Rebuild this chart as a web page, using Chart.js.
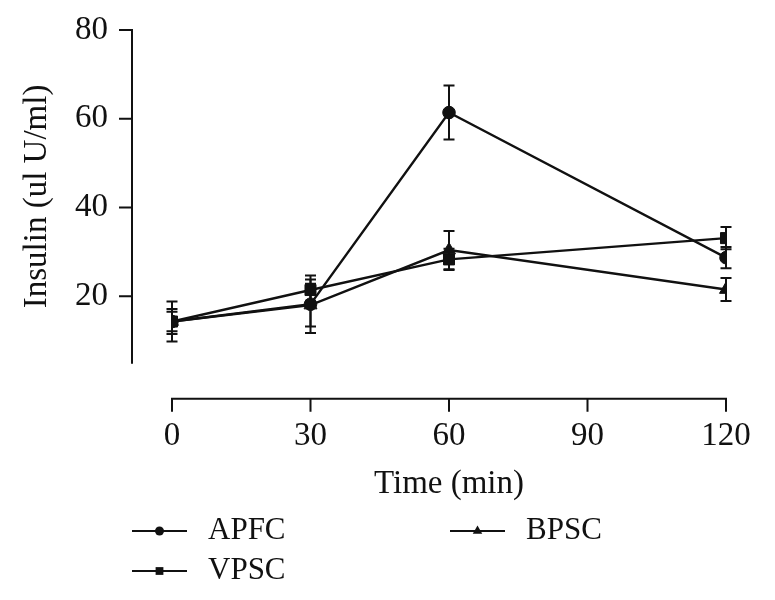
<!DOCTYPE html>
<html><head><meta charset="utf-8">
<script src="https://cdn.jsdelivr.net/npm/chart.js@4.4.1/dist/chart.umd.min.js"></script>
<style>html,body{margin:0;padding:0;background:#fff;}#wrap{width:775px;height:600px;}</style>
</head><body><div id="wrap"><canvas id="c" width="775" height="600"></canvas></div>
<script>
// ---- data ----
const times = [0, 30, 60, 120];
const seriesNames = ['APFC', 'VPSC', 'BPSC'];
const apfcMean = [14.3, 18.2, 61.4, 28.7];
const apfcErr  = [4.5, 6.5, 6.1, 2.4];
const vpscMean = [14.3, 21.4, 28.3, 33.1];
const vpscErr  = [2.2, 2.4, 2.4, 2.5];
const bpscMean = [14.3, 18.0, 30.4, 21.5];
const bpscErr  = [2.8, 4.8, 4.3, 2.6];
const xTicks = [0, 30, 60, 90, 120];
const yTicks = [20, 40, 60, 80];
const xTitle = 'Time (min)';
const yTitle = 'Insulin (ul U/ml)';

// ---- styles ----
const INK = '#111';
const FONT = '"Liberation Serif", "Times New Roman", serif';
const markerStyles = ['circle', 'rect', 'triangle'];
const markerRadius = [6.3, 7.8, 7.5];
const legendMarkerRadius = [4.5, 5.5, 5.5];
const legendSlots = [{x: 132, y: 531}, {x: 132, y: 571}, {x: 450, y: 531}];

const means = [apfcMean, vpscMean, bpscMean];
const errs = [apfcErr, vpscErr, bpscErr];

const datasets = seriesNames.map((name, k) => ({
  label: name,
  data: times.map((t, i) => ({x: t, y: means[k][i]})),
  errors: errs[k],
  borderColor: INK,
  backgroundColor: INK,
  borderWidth: 2.4,
  pointStyle: markerStyles[k],
  pointRadius: markerRadius[k],
  pointBorderWidth: 1,
  pointBackgroundColor: INK,
  pointBorderColor: INK,
  tension: 0,
  fill: false
}));

const errorBars = {
  id: 'errorBars',
  beforeDatasetsDraw(chart) {
    const {ctx, scales: {x, y}} = chart;
    ctx.save();
    ctx.strokeStyle = INK;
    ctx.lineWidth = 2;
    chart.data.datasets.forEach(ds => {
      ds.data.forEach((p, i) => {
        const e = ds.errors[i];
        const px = x.getPixelForValue(p.x);
        const top = y.getPixelForValue(p.y + e);
        const bot = y.getPixelForValue(p.y - e);
        ctx.beginPath();
        ctx.moveTo(px, top); ctx.lineTo(px, bot);
        ctx.moveTo(px - 5.5, top); ctx.lineTo(px + 5.5, top);
        ctx.moveTo(px - 5.5, bot); ctx.lineTo(px + 5.5, bot);
        ctx.stroke();
      });
    });
    ctx.restore();
  }
};

const offsetAxes = {
  id: 'offsetAxes',
  afterDraw(chart) {
    const {ctx, chartArea, scales: {x, y}} = chart;
    const ax = chartArea.left - 40;
    const ay = chartArea.bottom + 36;
    ctx.save();
    ctx.strokeStyle = INK;
    ctx.lineWidth = 2;
    ctx.lineCap = 'square';
    ctx.beginPath();
    ctx.moveTo(ax, y.getPixelForValue(y.max));
    ctx.lineTo(ax, y.getPixelForValue(y.min));
    yTicks.forEach(v => { const py = y.getPixelForValue(v); ctx.moveTo(ax - 12, py); ctx.lineTo(ax, py); });
    ctx.moveTo(x.getPixelForValue(x.min), ay);
    ctx.lineTo(x.getPixelForValue(x.max), ay);
    xTicks.forEach(v => { const px = x.getPixelForValue(v); ctx.moveTo(px, ay); ctx.lineTo(px, ay + 12); });
    ctx.stroke();
    ctx.restore();
  }
};

function drawMarker(ctx, style, r, cx, cy) {
  ctx.beginPath();
  if (style === 'circle') {
    ctx.arc(cx, cy, r, 0, Math.PI * 2);
  } else if (style === 'rect') {
    const s = r * Math.SQRT1_2;
    ctx.rect(cx - s, cy - s, 2 * s, 2 * s);
  } else {
    const half = r * Math.sqrt(3) / 2;
    ctx.moveTo(cx, cy - r);
    ctx.lineTo(cx + half, cy + r / 2);
    ctx.lineTo(cx - half, cy + r / 2);
    ctx.closePath();
  }
  ctx.fill();
}

const seriesLegend = {
  id: 'seriesLegend',
  afterDraw(chart) {
    const {ctx} = chart;
    ctx.save();
    ctx.fillStyle = INK;
    ctx.strokeStyle = INK;
    ctx.lineWidth = 2;
    ctx.font = '31px ' + FONT;
    ctx.textBaseline = 'middle';
    ctx.textAlign = 'left';
    chart.data.datasets.forEach((ds, k) => {
      const s = legendSlots[k];
      ctx.beginPath();
      ctx.moveTo(s.x, s.y); ctx.lineTo(s.x + 55, s.y);
      ctx.stroke();
      drawMarker(ctx, ds.pointStyle, legendMarkerRadius[k], s.x + 27.5, s.y);
      ctx.fillText(ds.label, s.x + 76, s.y);
    });
    ctx.restore();
  }
};

Chart.defaults.font.family = FONT;
Chart.defaults.color = INK;

const hiddenGrid = (len) => ({display: true, drawOnChartArea: false, drawTicks: true, tickLength: len, color: 'rgba(0,0,0,0)'});

new Chart(document.getElementById('c'), {
  type: 'line',
  data: {datasets},
  options: {
    responsive: false,
    animation: false,
    devicePixelRatio: 1,
    layout: {padding: {top: 30, right: 49, bottom: 92, left: 0}},
    plugins: {legend: {display: false}, tooltip: {enabled: false}},
    scales: {
      x: {
        type: 'linear', min: 0, max: 120,
        afterBuildTicks: s => { s.ticks = xTicks.map(v => ({value: v})); },
        grid: hiddenGrid(50), border: {display: false},
        ticks: {font: {size: 33}, padding: 4, color: INK, maxRotation: 0},
        title: {display: true, text: xTitle, font: {size: 33}, color: INK, padding: {top: 4, bottom: 4}}
      },
      y: {
        type: 'linear', min: 5, max: 80,
        afterBuildTicks: s => { s.ticks = yTicks.map(v => ({value: v})); },
        afterFit: s => { s.width = 172; },
        grid: hiddenGrid(60), border: {display: false},
        ticks: {font: {size: 33}, padding: 4, color: INK},
        title: {display: true, text: yTitle, font: {size: 33}, color: INK, padding: {top: 18, bottom: 0}}
      }
    }
  },
  plugins: [errorBars, offsetAxes, seriesLegend]
});
</script>
</body></html>
